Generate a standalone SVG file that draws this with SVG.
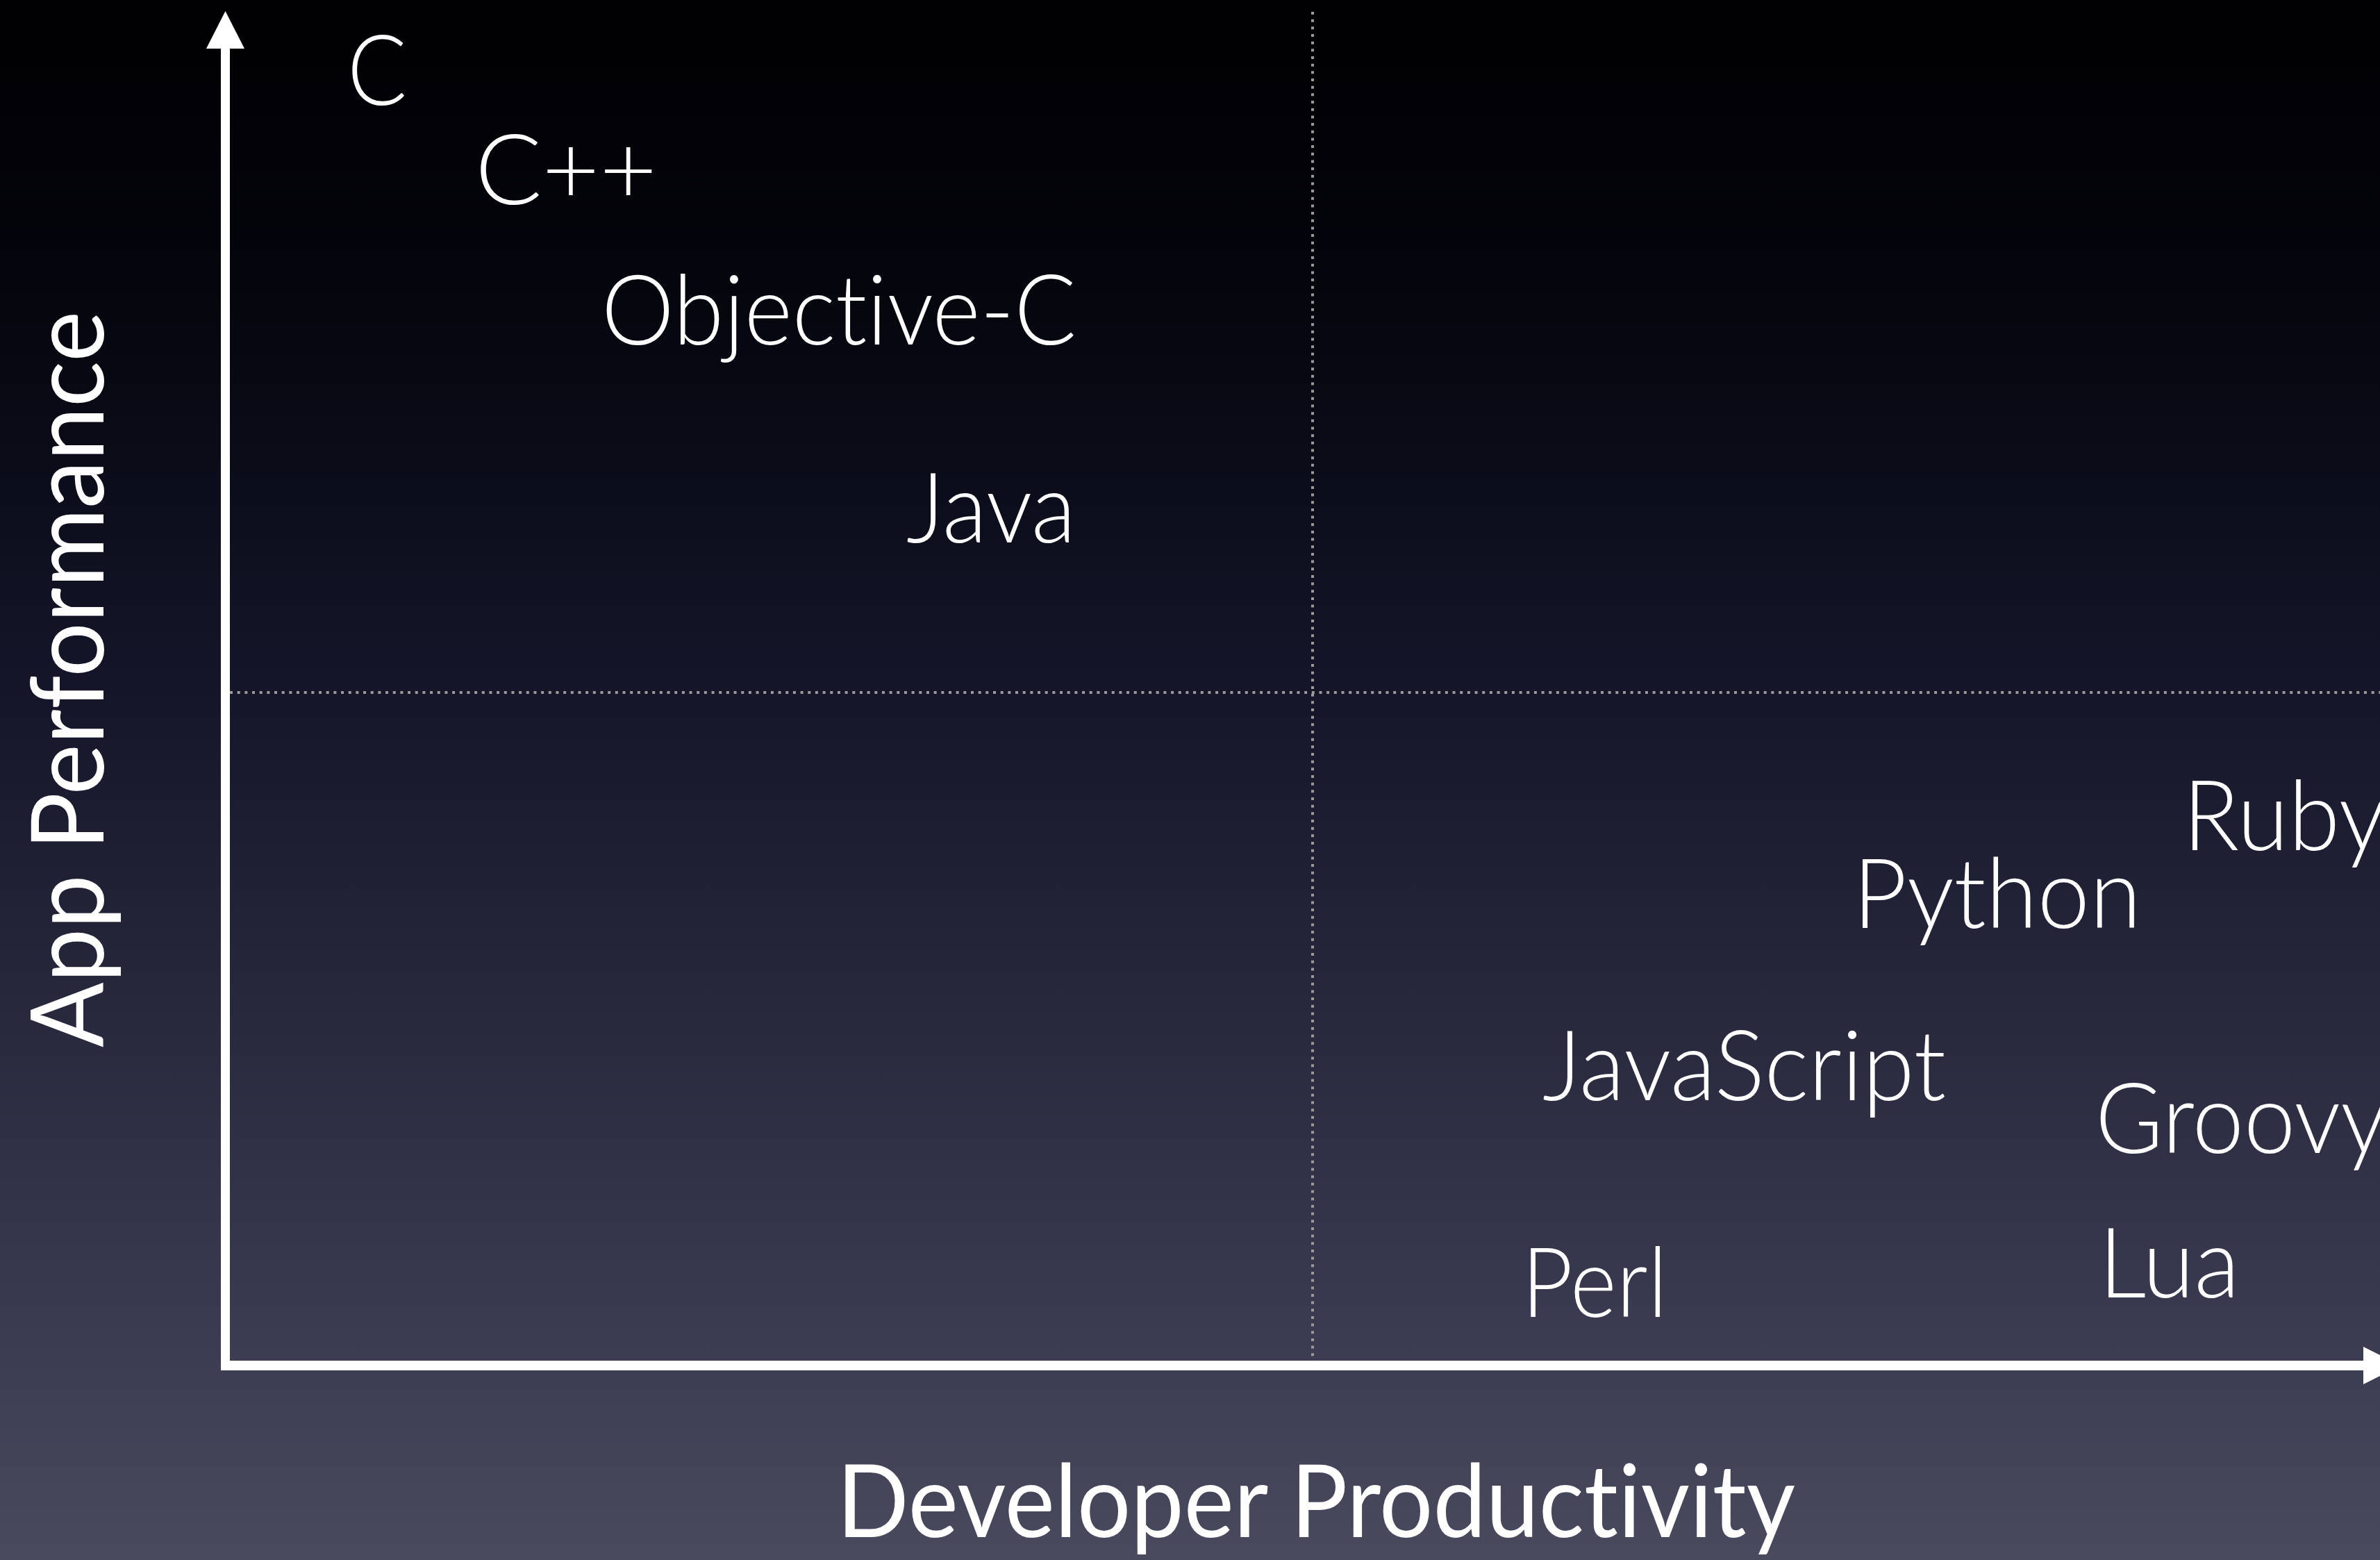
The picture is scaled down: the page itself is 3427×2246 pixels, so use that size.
<svg xmlns="http://www.w3.org/2000/svg" width="3427" height="2246" viewBox="0 0 3427 2246">
<defs>
<linearGradient id="bg" x1="0" y1="0" x2="0" y2="1">
<stop offset="0" stop-color="#000002"/>
<stop offset="0.2" stop-color="#05060e"/>
<stop offset="0.45" stop-color="#15162a"/>
<stop offset="0.87" stop-color="#3c3d52"/>
<stop offset="1" stop-color="#4a4a5f"/>
</linearGradient>
</defs>
<style>
text{font-variant-ligatures:none;font-feature-settings:"liga" 0,"clig" 0,"dlig" 0}
.lbl{font-family:Lato,"Open Sans","Liberation Sans",sans-serif;font-weight:300;font-size:140px;fill:#ffffff}
.ttl{font-family:Lato,"Open Sans","Liberation Sans",sans-serif;font-weight:400;font-size:145px;fill:#ffffff}
.dot{stroke:#9a9a9a;stroke-width:4;stroke-dasharray:4 6.67;fill:none}
.axis{fill:#ffffff}
</style>
<rect x="0" y="0" width="3427" height="2246" fill="url(#bg)"/>
<g id="grid">
<line class="dot" x1="1890" y1="17" x2="1890" y2="1959"/>
<line class="dot" x1="331" y1="997" x2="3427" y2="997"/>
</g>
<g id="connectors">
<rect class="axis" x="318" y="60" width="13" height="1913"/>
<polygon class="axis" points="324.5,16 297,70 352,70"/>
<rect class="axis" x="318" y="1959" width="3095" height="14"/>
<polygon class="axis" points="3457,1966 3403,1939 3403,1993"/>
</g>
<g id="axis-y-title"><text class="ttl" transform="translate(149,1508) rotate(-90)" x="0" y="0" textLength="1060" lengthAdjust="spacingAndGlyphs">App Performance</text></g>
<g id="axis-x-title"><text class="ttl" x="1205" y="2213" textLength="1380" lengthAdjust="spacingAndGlyphs">Developer Productivity</text></g>
<g id="lang-c"><text class="lbl" x="500" y="151" textLength="86" lengthAdjust="spacingAndGlyphs">C</text></g>
<g id="lang-cpp"><text class="lbl" x="684" y="294" textLength="262" lengthAdjust="spacingAndGlyphs">C++</text></g>
<g id="lang-objc"><text class="lbl" x="866" y="496" textLength="684" lengthAdjust="spacingAndGlyphs">Objective-C</text></g>
<g id="lang-java"><text class="lbl" x="1305" y="781" textLength="244" lengthAdjust="spacingAndGlyphs">Java</text></g>
<g id="lang-ruby"><text class="lbl" x="3143" y="1224" textLength="292" lengthAdjust="spacingAndGlyphs">Ruby</text></g>
<g id="lang-python"><text class="lbl" x="2668" y="1336" textLength="415" lengthAdjust="spacingAndGlyphs">Python</text></g>
<g id="lang-javascript"><text class="lbl" x="2221" y="1584" textLength="581" lengthAdjust="spacingAndGlyphs">JavaScript</text></g>
<g id="lang-groovy"><text class="lbl" x="3017" y="1660" textLength="420" lengthAdjust="spacingAndGlyphs">Groovy</text></g>
<g id="lang-perl"><text class="lbl" x="2191" y="1896" textLength="210" lengthAdjust="spacingAndGlyphs">Perl</text></g>
<g id="lang-lua"><text class="lbl" x="3022" y="1868" textLength="203" lengthAdjust="spacingAndGlyphs">Lua</text></g>
</svg>
